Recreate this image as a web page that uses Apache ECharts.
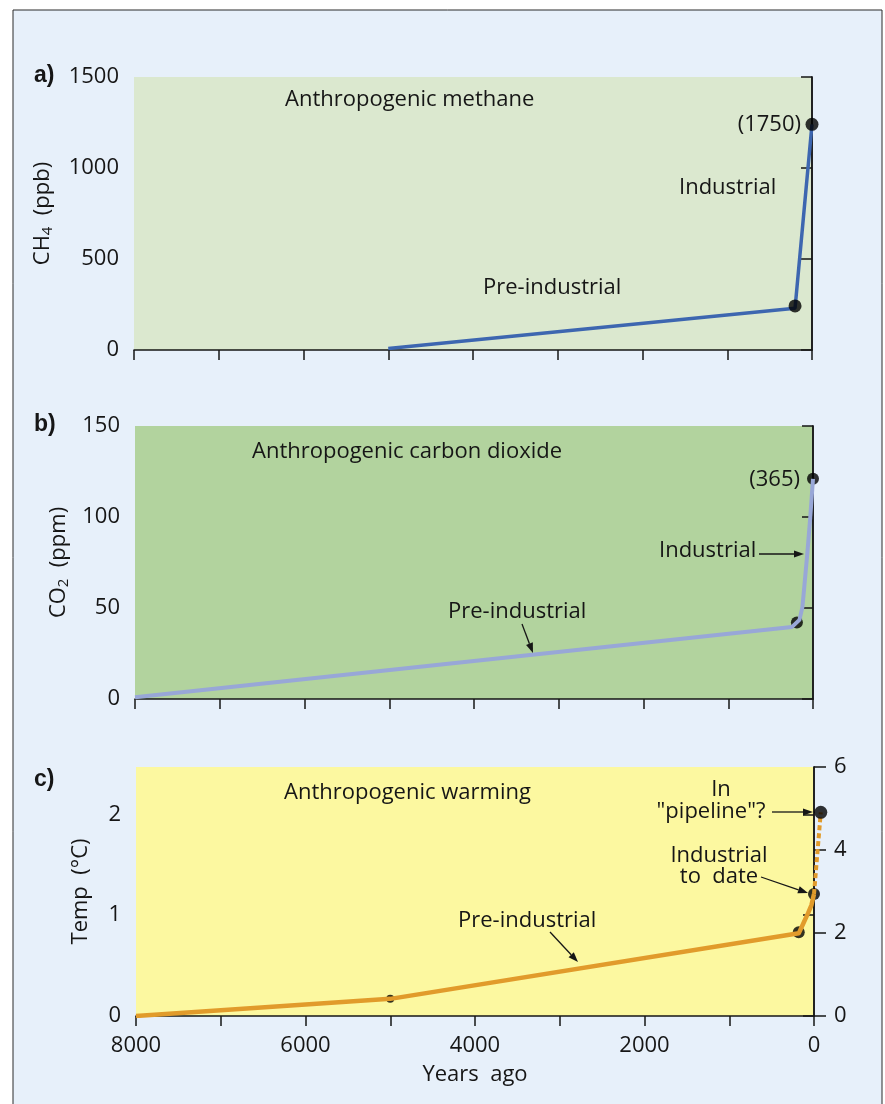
<!DOCTYPE html>
<html>
<head>
<meta charset="utf-8">
<script src="https://cdn.jsdelivr.net/npm/echarts@6/dist/echarts.min.js"></script>
<style>
html, body { margin: 0; padding: 0; background: #fff; }
#chart { width: 885px; height: 1104px; }
</style>
</head>
<body>
<div id="chart"></div>
<script>
// x axis = years ago, drawn 8000 (left) -> 0 (right)
const yearTicks = [0, 1000, 2000, 3000, 4000, 5000, 6000, 7000, 8000];
const yearLabels = [0, 2000, 4000, 6000, 8000];

// a) methane (ppb)
const methaneYears = [5000, 200, 0];
const methaneValues = [8, 230, 1240];
const methaneDotYears = [200, 0];
const methaneDotValues = [242, 1240];

// b) carbon dioxide (ppm)
const co2Years = [8000, 250, 160, 125, 103, 67, 32, 0];
const co2Values = [1, 39.5, 43.5, 50.5, 61.5, 80, 100, 121];
const co2DotYears = [190, 0];
const co2DotValues = [42, 121];

// c) warming (deg C)
const tempYears = [8000, 5000, 180, 125, 70, 30, 0];
const tempValues = [0, 0.17, 0.82, 0.92, 1.02, 1.1, 1.21];
const pipelineYears = [0, -80];
const pipelineValues = [1.21, 2.02];
const tempDotYears = [5000, 180, 0];
const tempDotValues = [0.17, 0.83, 1.21];
const tempDotSizes = [8, 12, 12];
const tempLeftTicks = [0, 1, 2];
const tempRightTicks = [0, 2, 4, 6];

const zip = (xs, ys) => xs.map((x, i) => [x, ys[i]]);

const FONT = 'Open Sans';
const INK = '#161616';
const plain = v => String(v);

// panel c plot box; the "pipeline" point lies a little in the future (right of 0),
// so it is drawn on an invisible twin axis that runs on past 0 to FUTURE years
const C_LEFT = 136, C_WIDTH = 678, FUTURE = 100;

const chart = echarts.init(document.getElementById('chart'));

function xAxisFor(gridIndex, withLabels) {
  return {
    type: 'value', gridIndex: gridIndex, min: 0, max: 8000, interval: 1000, inverse: true,
    axisLine: { show: true, lineStyle: { color: INK, width: 1.5 } },
    axisTick: { show: true, length: 10, lineStyle: { color: INK, width: 1.5 }, customValues: yearTicks },
    splitLine: { show: false },
    axisLabel: withLabels
      ? { show: true, customValues: yearLabels, formatter: plain, fontFamily: FONT, fontSize: 22, color: INK, margin: 19 }
      : { show: false },
    name: withLabels ? 'Years  ago' : '',
    nameLocation: 'middle',
    nameGap: 48,
    nameTextStyle: { fontFamily: FONT, fontSize: 22, color: INK }
  };
}

function leftAxis(gridIndex, min, max, interval, name, gap, ticks) {
  const ax = {
    type: 'value', gridIndex: gridIndex, position: 'left', min: min, max: max, interval: interval,
    axisLine: { show: true, lineStyle: { color: INK, width: 1.5 } },
    axisTick: { show: true, length: 11, lineStyle: { color: INK, width: 1.5 } },
    splitLine: { show: false },
    axisLabel: { fontFamily: FONT, fontSize: 22, color: INK, margin: 15, formatter: plain },
    name: name,
    nameLocation: 'middle',
    nameRotate: 90,
    nameGap: gap,
    nameTextStyle: {
      fontFamily: FONT, fontSize: 22, color: INK,
      rich: {
        n: { fontFamily: FONT, fontSize: 22, color: INK, lineHeight: 26 },
        s: { fontFamily: FONT, fontSize: 15, color: INK, lineHeight: 16, padding: [10, 0, 0, 0] }
      }
    }
  };
  if (ticks) {
    ax.axisTick.customValues = ticks;
    ax.axisLabel.customValues = ticks;
  }
  return ax;
}

function rightBorder(gridIndex) {
  return {
    type: 'value', gridIndex: gridIndex, position: 'right', min: 0, max: 1,
    axisLine: { show: true, lineStyle: { color: INK, width: 1.5 } },
    axisTick: { show: false }, axisLabel: { show: false }, splitLine: { show: false }
  };
}

function arrow(x1, y1, x2, y2) {
  const a = Math.atan2(y2 - y1, x2 - x1);
  const L = 10, W = 3.6;
  const bx = x2 - L * Math.cos(a), by = y2 - L * Math.sin(a);
  return [
    { type: 'line', z: 50, shape: { x1: x1, y1: y1, x2: bx, y2: by }, style: { stroke: INK, lineWidth: 1.3 } },
    { type: 'polygon', z: 50, shape: { points: [[x2, y2],
        [bx + W * Math.sin(a), by - W * Math.cos(a)],
        [bx - W * Math.sin(a), by + W * Math.cos(a)]] }, style: { fill: INK } }
  ];
}

function txt(x, y, s, align) {
  return {
    type: 'text', z: 50, x: x, y: y,
    style: { text: s, fontFamily: FONT, fontSize: 22, fill: INK, align: align || 'left', verticalAlign: 'middle' }
  };
}

function letter(x, y, s) {
  return {
    type: 'text', z: 50, x: x, y: y,
    style: { text: s, fontFamily: 'Liberation Sans', fontWeight: 'bold', fontSize: 23, fill: INK, verticalAlign: 'middle' }
  };
}

const graphics = [
  { type: 'rect', z: -10, shape: { x: 13, y: 10, width: 869, height: 1110 },
    style: { fill: '#e7f0fa', stroke: '#2a2a2a', lineWidth: 1 } },
  letter(34, 76, 'a)'),
  letter(34, 425, 'b)'),
  letter(34, 780, 'c)'),
  txt(285, 100, 'Anthropogenic methane'),
  txt(801, 125, '(1750)', 'right'),
  txt(679, 188, 'Industrial'),
  txt(483, 288, 'Pre-industrial'),
  txt(252, 452, 'Anthropogenic carbon dioxide'),
  txt(800, 480, '(365)', 'right'),
  txt(659, 551, 'Industrial'),
  txt(448, 612, 'Pre-industrial'),
  txt(284, 793, 'Anthropogenic warming'),
  txt(721, 790, 'In', 'center'),
  txt(711, 812, '"pipeline"?', 'center'),
  txt(719, 856, 'Industrial', 'center'),
  txt(719, 877, 'to  date', 'center'),
  txt(458, 921, 'Pre-industrial')
].concat(
  arrow(759, 554, 804, 554),
  arrow(522, 624, 533, 653),
  arrow(772, 812, 813, 812),
  arrow(761, 877, 808, 893),
  arrow(550, 932, 578, 962)
);

chart.setOption({
  animation: false,
  backgroundColor: '#ffffff',
  grid: [
    { left: 134, top: 77, width: 678, height: 273, show: true, backgroundColor: '#dbe8cf', borderWidth: 0 },
    { left: 135, top: 426, width: 678, height: 273, show: true, backgroundColor: '#b2d39e', borderWidth: 0 },
    { left: C_LEFT, top: 767, width: C_WIDTH, height: 249, show: true, backgroundColor: '#fcf8a0', borderWidth: 0 },
    { left: C_LEFT, top: 767, width: C_WIDTH * (8000 + FUTURE) / 8000, height: 249, show: false }
  ],
  xAxis: [
    xAxisFor(0, false), xAxisFor(1, false), xAxisFor(2, true),
    { type: 'value', gridIndex: 3, min: -FUTURE, max: 8000, inverse: true, show: false }
  ],
  yAxis: [
    leftAxis(0, 0, 1500, 500, '{n|CH}{s|4}{n|  (ppb)}', 78),
    rightBorder(0),
    leftAxis(1, 0, 150, 50, '{n|CO}{s|2}{n|  (ppm)}', 58),
    rightBorder(1),
    leftAxis(2, 0, 2.47, 1, 'Temp  (\u00B0C)', 44, tempLeftTicks),
    {
      type: 'value', gridIndex: 2, position: 'right', min: 0, max: 6, interval: 2,
      axisLine: { show: true, lineStyle: { color: INK, width: 1.5 } },
      axisTick: { show: true, length: 12, lineStyle: { color: INK, width: 1.5 }, customValues: tempRightTicks },
      axisLabel: { fontFamily: FONT, fontSize: 22, color: INK, margin: 20, customValues: tempRightTicks },
      splitLine: { show: false }
    },
    { type: 'value', gridIndex: 3, min: 0, max: 2.47, show: false }
  ],
  series: [
    {
      type: 'line', xAxisIndex: 0, yAxisIndex: 0, z: 3, symbol: 'none',
      data: zip(methaneYears, methaneValues),
      lineStyle: { color: '#3d66b0', width: 3.5 }
    },
    {
      type: 'scatter', xAxisIndex: 0, yAxisIndex: 0, z: 4, symbolSize: 13,
      data: zip(methaneDotYears, methaneDotValues),
      itemStyle: { color: '#000' }
    },
    {
      type: 'scatter', xAxisIndex: 1, yAxisIndex: 2, z: 2, symbolSize: 12,
      data: zip(co2DotYears, co2DotValues),
      itemStyle: { color: '#000' }
    },
    {
      type: 'line', xAxisIndex: 1, yAxisIndex: 2, z: 3, symbol: 'none',
      data: zip(co2Years, co2Values),
      lineStyle: { color: '#98a7d7', width: 4, join: 'round' }
    },
    {
      type: 'scatter', xAxisIndex: 2, yAxisIndex: 4, z: 2,
      data: zip(tempDotYears, tempDotValues),
      symbolSize: (v, p) => tempDotSizes[p.dataIndex],
      itemStyle: { color: '#000' }
    },
    {
      type: 'line', xAxisIndex: 2, yAxisIndex: 4, z: 3, symbol: 'none',
      data: zip(tempYears, tempValues),
      lineStyle: { color: '#e19b2b', width: 4.5, join: 'round' }
    },
    {
      type: 'line', xAxisIndex: 3, yAxisIndex: 6, z: 10, symbol: 'none',
      data: zip(pipelineYears, pipelineValues),
      lineStyle: { color: '#e19b2b', width: 4, type: [5, 3] }
    },
    {
      type: 'scatter', xAxisIndex: 3, yAxisIndex: 6, z: 11, symbolSize: 13,
      data: [[pipelineYears[1], pipelineValues[1]]],
      itemStyle: { color: '#000' }
    }
  ],
  graphic: graphics
});
</script>
</body>
</html>
